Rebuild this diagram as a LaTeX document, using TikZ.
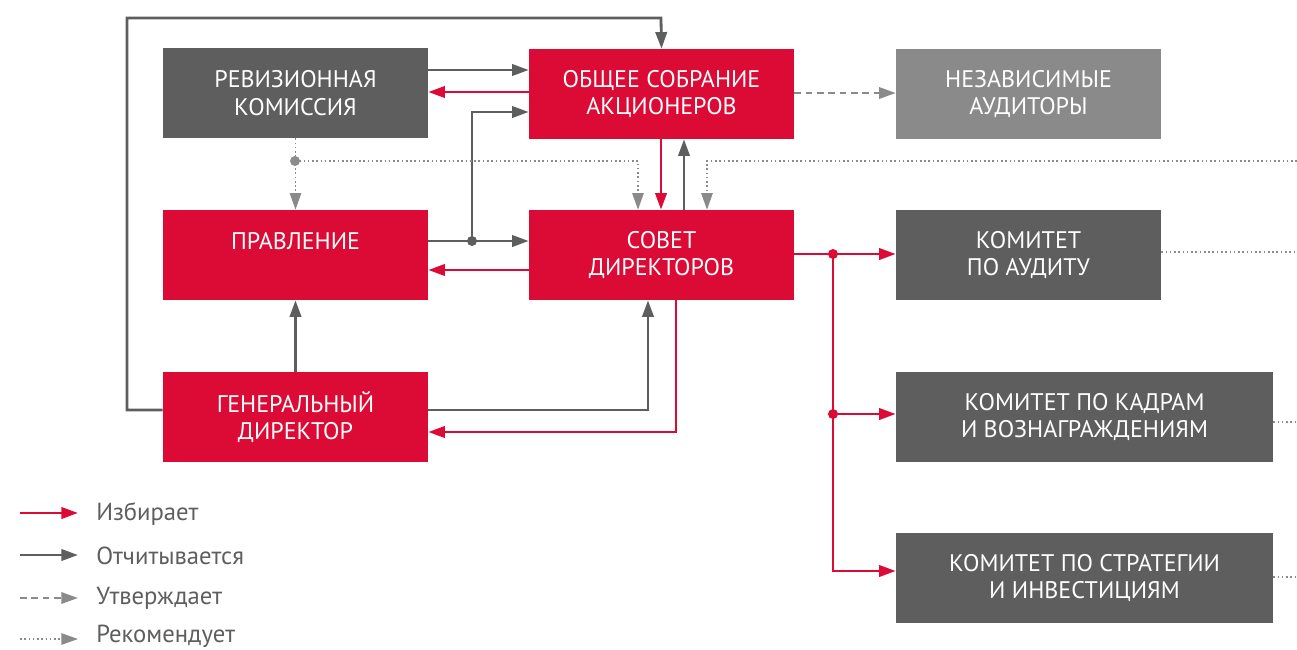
\documentclass[tikz,border=0pt]{standalone}
\usepackage{fontspec}
\setmainfont{PT Sans}
\usetikzlibrary{arrows.meta,calc}
\definecolor{cred}{HTML}{DB0B36}
\definecolor{cdark}{HTML}{5E5E5E}
\definecolor{clight}{HTML}{8A8A8A}
\definecolor{cdot}{HTML}{8C8C8C}
\begin{document}
\begin{tikzpicture}[x=0.75pt,y=-0.75pt,
  box/.style={rectangle,minimum height=67.5pt,inner sep=0pt,text=white,align=center,font=\fontsize{18}{20.5}\selectfont},
  stdbox/.style={box,minimum width=198.75pt},
  widebox/.style={box,minimum width=282.75pt},
  tip/.style={-{Triangle[length=12.5pt,width=8.5pt]}},
  rline/.style={draw=cred,line width=2.1pt,tip,cred},
  gline/.style={draw=cdark,line width=2.1pt,tip,cdark},
  dashline/.style={draw=clight,line width=1.7pt,dash pattern=on 5pt off 3.5pt,-{Triangle[length=12.5pt,width=8.5pt,fill=clight]},clight},
  dline/.style={draw=cdot,line width=1.3pt,dash pattern=on 1.2pt off 2pt,-{Triangle[length=12.5pt,width=8.5pt,fill=clight]},clight},
  dotline/.style={draw=cdot,line width=1.3pt,dash pattern=on 1.2pt off 2pt},
  jdot/.style={circle,inner sep=0pt,minimum size=7.5pt},
  legtext/.style={anchor=west,text=cdark,font=\fontsize{18.5}{20}\selectfont,inner sep=0pt}]
\useasboundingbox (0,0) rectangle (1297,650);

% boxes
\node[stdbox,fill=cdark] (rev) at (295.5,93) {РЕВИЗИОННАЯ\\КОМИССИЯ};
\node[stdbox,fill=cred] (osa) at (661.5,94) {ОБЩЕЕ СОБРАНИЕ\\АКЦИОНЕРОВ};
\node[stdbox,fill=clight] (aud) at (1028.5,94) {НЕЗАВИСИМЫЕ\\АУДИТОРЫ};
\node[stdbox,fill=cred] (prav) at (295.5,255) {ПРАВЛЕНИЕ\\\mbox{}};
\node[stdbox,fill=cred] (sd) at (661.5,255) {СОВЕТ\\ДИРЕКТОРОВ};
\node[stdbox,fill=cdark] (ka) at (1028.5,255) {КОМИТЕТ\\ПО АУДИТУ};
\node[stdbox,fill=cred] (gd) at (295.5,417) {ГЕНЕРАЛЬНЫЙ\\ДИРЕКТОР};
\node[widebox,fill=cdark] (kk) at (1084.5,417) {КОМИТЕТ ПО КАДРАМ\\И ВОЗНАГРАЖДЕНИЯМ};
\node[widebox,fill=cdark] (ks) at (1084.5,578) {КОМИТЕТ ПО СТРАТЕГИИ\\И ИНВЕСТИЦИЯМ};

% junction coordinates
\coordinate (j1) at (472,241);
\coordinate (d1) at (295,161);
\coordinate (r1) at (833,254);
\coordinate (r2) at (833,414);
\coordinate (eR) at (1297,161);

% gray loop from GD to OSA
\draw[gline] (gd.west |- 0,410) -- (127,410) -- (127,18) -- (661,18) -- (osa.north);
\draw[gline] (rev.east |- 0,70) -- (osa.west |- 0,70);
\draw[rline] (osa.west |- 0,92) -- (rev.east |- 0,92);
\draw[gline] (prav.east |- 0,241) -- (sd.west |- 0,241);
\draw[gline] (j1) -- (472,112) -- (osa.west |- 0,112);
\node[jdot,fill=cdark] at (j1) {};
\draw[rline] (sd.west |- 0,270) -- (prav.east |- 0,270);
\draw[rline] (osa.south -| 661,0) -- (sd.north -| 661,0);
\draw[gline] (sd.north -| 684,0) -- (osa.south -| 684,0);

% dotted recommendations
\draw[dline] (rev.south) -- (prav.north);
\node[jdot,fill=cdot] at (d1) {};
\draw[dline] (d1) -- (638,161) -- (sd.north -| 638,0);
\draw[dline] (eR) -- (707,161) -- (sd.north -| 707,0);
\draw[dotline] (ka.east |- 0,252) -- (1297,252);
\draw[dotline] (kk.east |- 0,422) -- (1297,422);
\draw[dotline] (ks.east |- 0,577) -- (1297,577);

% dashed approval
\draw[dashline] (osa.east |- 0,93) -- (aud.west |- 0,93);

% GD <-> SD
\draw[gline] (gd.east |- 0,410) -- (648,410) -- (sd.south -| 648,0);
\draw[rline] (sd.south -| 676,0) -- (676,432) -- (gd.east |- 0,432);
\draw[gline] (gd.north) -- (prav.south);

% SD -> committees
\draw[rline] (sd.east |- 0,254) -- (ka.west |- 0,254);
\draw[rline] (r1) -- (833,571) -- (ks.west |- 0,571);
\draw[rline] (r2) -- (kk.west |- 0,414);
\node[jdot,fill=cred] at (r1) {};
\node[jdot,fill=cred] at (r2) {};

% legend
\coordinate (la1) at (20,513); \coordinate (lb1) at (78,513);
\coordinate (la2) at (20,555); \coordinate (lb2) at (78,555);
\coordinate (la3) at (20,598); \coordinate (lb3) at (78,598);
\coordinate (la4) at (20,639); \coordinate (lb4) at (78,639);
\draw[rline] (la1) -- (lb1);
\draw[gline] (la2) -- (lb2);
\draw[dashline] (la3) -- (lb3);
\draw[dline] (la4) -- (lb4);
\node[legtext] (l1) at (96,514) {Избирает};
\node[legtext] (l2) at (96,556) {Отчитывается};
\node[legtext] (l3) at (96,598) {Утверждает};
\node[legtext] (l4) at (96,636) {Рекомендует};
\end{tikzpicture}
\end{document}
